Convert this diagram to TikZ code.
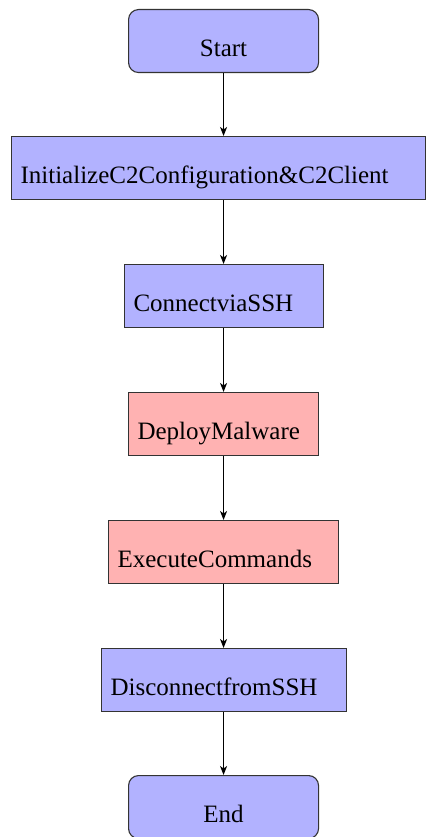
\documentclass[tikz,border=0pt]{standalone}
\usepackage{fontspec}
\setmainfont{Liberation Serif}
\usetikzlibrary{arrows.meta}
\begin{document}
\begin{tikzpicture}[x=1pt,y=-1pt,
  stepbase/.style={draw=black!80, line width=1.1pt, anchor=north west,
    minimum height=63pt, inner xsep=9pt, inner ysep=0pt,
    text height=47pt, text depth=16pt,
    font=\fontsize{25}{30}\selectfont},
  terminal/.style={stepbase, fill=blue!30, rounded corners=10pt,
    minimum width=190pt, align=center},
  plainstep/.style={stepbase, fill=blue!30, align=left},
  riskstep/.style={stepbase, fill=red!30, align=left},
  flow/.style={-{Stealth[length=9pt,width=7pt,inset=2.5pt]}, line width=1.3pt, black}]
\useasboundingbox (0,0) rectangle (426,837);

\node[terminal] (start) at (128,9) {Start};
\node[plainstep, text width=396pt] (init) at (11,136) {InitializeC2Configuration\&C2Client};
\node[plainstep, text width=181pt] (ssh) at (124,264) {ConnectviaSSH};
\node[riskstep, text width=172pt] (deploy) at (128,392) {DeployMalware};
\node[riskstep, text width=212pt] (exec) at (108,520) {ExecuteCommands};
\node[plainstep, text width=227pt] (disc) at (101,648) {DisconnectfromSSH};
\node[terminal] (end) at (128,775) {End};

\draw[flow] (start.south) -- (init.north -| start.south);
\draw[flow] (init.south -| start.south) -- (ssh.north -| start.south);
\draw[flow] (ssh.south -| start.south) -- (deploy.north -| start.south);
\draw[flow] (deploy.south -| start.south) -- (exec.north -| start.south);
\draw[flow] (exec.south -| start.south) -- (disc.north -| start.south);
\draw[flow] (disc.south -| start.south) -- (end.north);
\end{tikzpicture}
\end{document}
